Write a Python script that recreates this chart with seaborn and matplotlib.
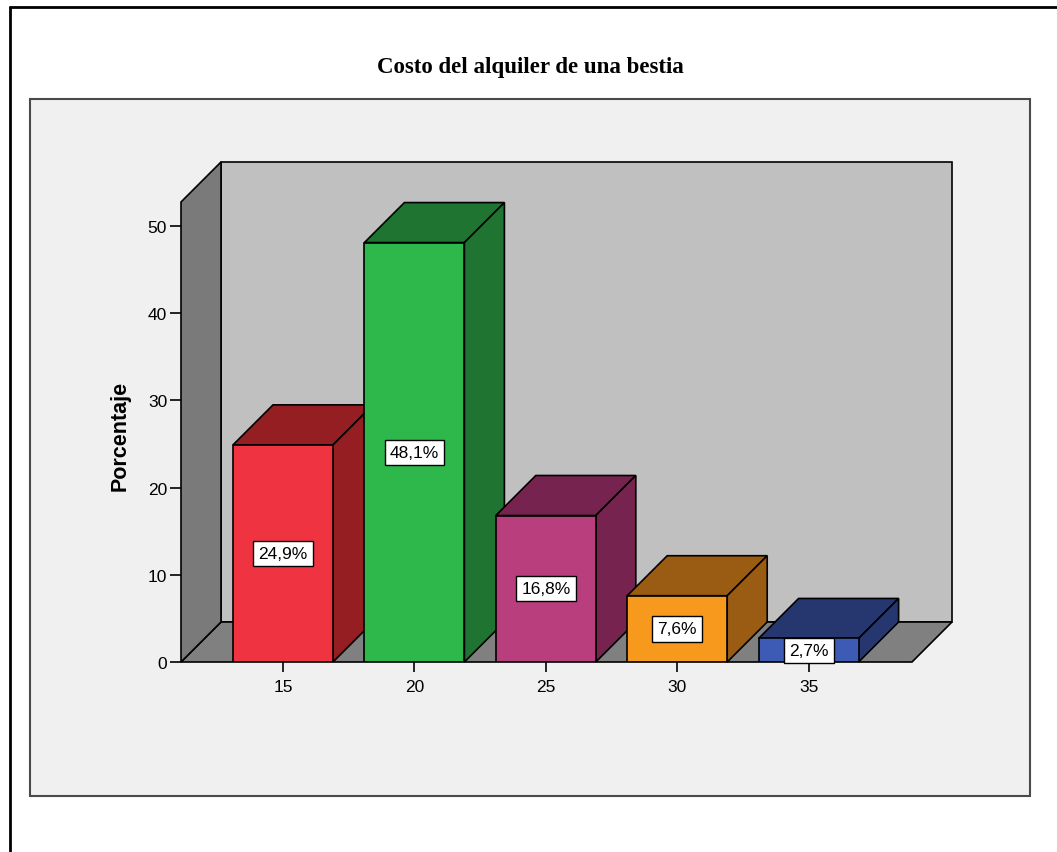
import numpy as np
import pandas as pd
import matplotlib
matplotlib.use("Agg")
import matplotlib.pyplot as plt
import seaborn as sns
from matplotlib.patches import Polygon, Rectangle
from matplotlib.lines import Line2D

# ---------------- data ----------------
categories = ["15", "20", "25", "30", "35"]
percentages = [24.9, 48.1, 16.8, 7.6, 2.7]
value_labels = ["24,9%", "48,1%", "16,8%", "7,6%", "2,7%"]
y_ticks = [0, 10, 20, 30, 40, 50]
title_text = "Costo del alquiler de una bestia"
y_label = "Porcentaje"

# ---------------- style ----------------
front_colors = ["#EF3340", "#2EB84C", "#B93E7E", "#F7991C", "#3D5BB5"]
shade_colors = ["#951E22", "#1E7430", "#76244F", "#9A5C12", "#25376E"]
BACK_WALL = "#C0C0C0"
SIDE_WALL = "#7A7A7A"
FLOOR = "#808080"
PANEL = "#F0F0F0"

sns.set_theme(style="white")
plt.rcParams["font.family"] = ["Liberation Sans", "DejaVu Sans"]

W, H = 1057, 853
fig = plt.figure(figsize=(W / 100, H / 100), dpi=100)
fig.patch.set_facecolor("white")

# outer frame (top and left)
fig.add_artist(Line2D([10 / W, 1.0], [1 - 8 / H, 1 - 8 / H], transform=fig.transFigure,
                      color="black", lw=2))
fig.add_artist(Line2D([10 / W, 10 / W], [0, 1 - 8 / H], transform=fig.transFigure,
                      color="black", lw=2))
# chart panel
fig.add_artist(Rectangle((30 / W, 1 - 797 / H), 1000 / W, 697 / H, transform=fig.transFigure,
                         fc=PANEL, ec="#4A4A4A", lw=1.5, zorder=0))

# axes geometry (pixels)
ax_left, ax_right, ax_bottom, ax_top = 181, 952, 663, 163
ax = fig.add_axes([ax_left / W, 1 - ax_bottom / H, (ax_right - ax_left) / W,
                   (ax_bottom - ax_top) / H])
ax.patch.set_visible(False)
for s in ax.spines.values():
    s.set_visible(False)

unit_px = 131.4          # px per category step
ypx = 8.72               # px per percent
x0 = -(283 - ax_left) / unit_px
x1 = (ax_right - 283) / unit_px
ymax = (ax_bottom - ax_top) / ypx
ax.set_xlim(x0, x1)
ax.set_ylim(0, ymax)

bar_w = 100 / unit_px
sns.barplot(x=categories, y=percentages, hue=categories, palette=front_colors,
            legend=False, width=bar_w, saturation=1, edgecolor="black",
            linewidth=1.2, ax=ax, zorder=3)
bars = list(ax.patches)
ax.set_xlim(x0, x1)
ax.set_ylim(0, ymax)

# depth offsets in data units (45 degrees, 40 px)
DEPTH = 40
dxd = DEPTH / unit_px
dyd = DEPTH / ypx

# back wall, left wall, floor
ax.add_patch(Polygon([(x0 + dxd, dyd), (x1, dyd), (x1, ymax), (x0 + dxd, ymax)],
                     closed=True, fc=BACK_WALL, ec="black", lw=1.2, zorder=1, clip_on=False))
ax.add_patch(Polygon([(x0, 0), (x0 + dxd, dyd), (x0 + dxd, ymax), (x0, ymax - dyd)],
                     closed=True, fc=SIDE_WALL, ec="black", lw=1.2, zorder=1.2, clip_on=False))
ax.add_patch(Polygon([(x0, 0), (x1 - dxd, 0), (x1, dyd), (x0 + dxd, dyd)],
                     closed=True, fc=FLOOR, ec="black", lw=1.2, zorder=1.1, clip_on=False))

for p, shade, lab in zip(bars, shade_colors, value_labels):
    x, w, h = p.get_x(), p.get_width(), p.get_height()
    ax.add_patch(Polygon([(x, h), (x + w, h), (x + w + dxd, h + dyd), (x + dxd, h + dyd)],
                         closed=True, fc=shade, ec="black", lw=1.2, zorder=2.5, clip_on=False))
    ax.add_patch(Polygon([(x + w, 0), (x + w + dxd, dyd), (x + w + dxd, h + dyd), (x + w, h)],
                         closed=True, fc=shade, ec="black", lw=1.2, zorder=2.5, clip_on=False))
    ax.text(x + w / 2, h / 2, lab, ha="center", va="center", fontsize=12.5, color="black",
            zorder=6, bbox=dict(boxstyle="square,pad=0.3", fc="white", ec="black", lw=1))

ax.set_yticks(y_ticks)
ax.set_yticklabels([str(t) for t in y_ticks])
ax.tick_params(axis="y", left=True, length=8, width=1.2, color="black", direction="out",
               pad=2, labelsize=12.5, labelcolor="black")
ax.tick_params(axis="x", bottom=True, length=7, width=1.2, color="black", direction="out",
               pad=5, labelsize=12.5, labelcolor="black")
ax.set_xlabel("")
ax.set_ylabel("")

fig.text(120 / W, 1 - 436 / H, y_label, rotation=90, ha="center", va="center",
         fontsize=15.5, fontweight="bold", color="black")
fig.text(530 / W, 1 - 67 / H, title_text, ha="center", va="center",
         fontsize=16.5, fontweight="bold", color="black",
         family=["Liberation Serif", "DejaVu Serif"])

fig.savefig("out.png", dpi=100, facecolor=fig.get_facecolor())
